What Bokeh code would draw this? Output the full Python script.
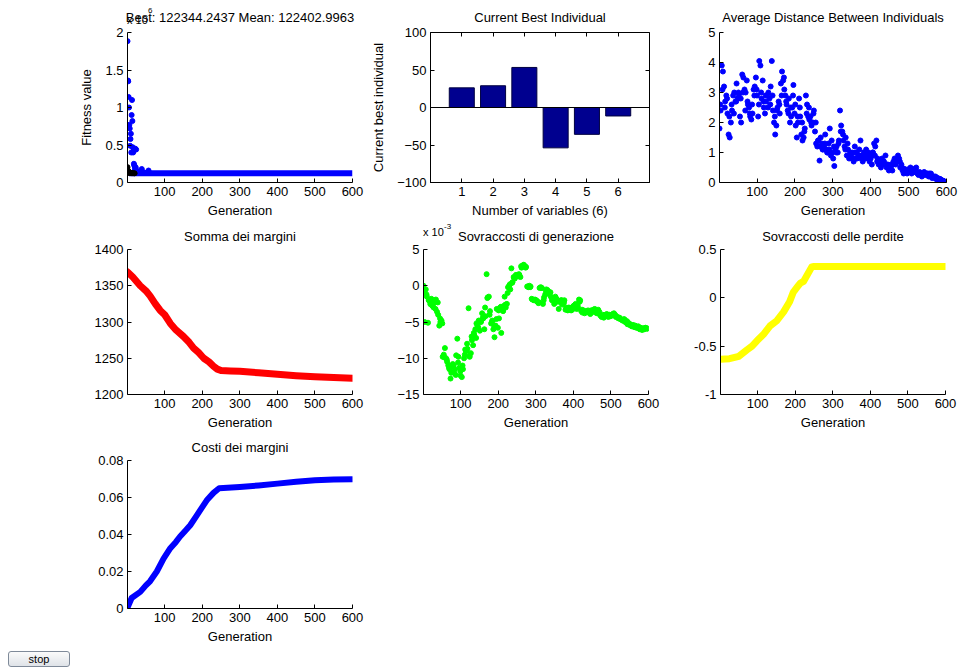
from bokeh.plotting import figure
from bokeh.layouts import column, row
from bokeh.models import (Range1d, FixedTicker, LinearAxis, Span, Button, Div,
                          InlineStyleSheet, Spacer)
from bokeh.embed import file_html
from bokeh.resources import INLINE

FONT = "Liberation Sans"
FS = "13px"

# ---------------- data ----------------
gen_ticks = [100, 200, 300, 400, 500, 600]

# Fitness value (x 1e6): mean of population in early generations, then plateau
mean_gen = [1, 2, 3, 4, 5, 6, 7, 8, 9, 10, 11, 12, 13, 14, 15, 16, 17, 18, 19, 20,
            21, 22, 23, 24, 25, 26, 28, 30, 35, 39, 45, 57]
mean_val = [1.885, 1.36, 1.35, 1.14, 1.0, 0.77, 0.72, 0.49, 0.58, 0.65, 0.40, 0.90,
            1.10, 0.82, 0.47, 0.40, 0.42, 0.25, 0.23, 0.22, 0.18, 0.45, 0.20, 0.44,
            0.16, 0.15, 0.14, 0.14, 0.13, 0.18, 0.135, 0.16]
mean_plateau_gen = [5, 600]
mean_plateau_val = [0.1224, 0.1224]
best_gen = [1, 2, 3, 4, 5, 6, 8, 10, 12, 15, 18, 20]
best_val = [0.205, 0.16, 0.14, 0.15, 0.13, 0.13, 0.125, 0.13, 0.125, 0.124, 0.123, 0.1223]
fit_ticks = [0, 0.5, 1, 1.5, 2]
fit_labels = ["0", "0.5", "1", "1.5", "2"]

# Current best individual
var_index = [1, 2, 3, 4, 5, 6]
best_individual = [26.2, 29.0, 53.4, -53.8, -35.8, -11.3]

# Average distance between individuals (two interleaved samplings of the run)
dist_val = [1.8, 2.4, 3.9, 3.7, 3.2, 2.7, 2.9, 2.3, 1.6, 1.5, 2.0, 2.4, 2.9, 3.0, 2.7, 3.3, 2.8,
            2.9, 2.2, 2.0, 3.6, 3.5, 3.1, 3.0, 3.4, 2.6, 2.5, 2.2, 2.1, 2.3, 3.1, 3.2, 3.5, 2.9,
            2.2, 4.05, 3.9, 2.8, 3.4, 2.5, 2.3, 2.7, 2.9, 3.0, 2.8, 3.2, 4.05, 2.4, 2.0, 1.6, 1.9,
            2.5, 2.7, 2.3, 3.3, 3.7, 3.4, 3.1, 2.9, 2.6, 2.4, 2.8, 2.0, 2.2, 2.5, 3.25, 2.3,
            1.9, 1.5, 2.0, 2.8, 2.2, 1.6, 1.4, 1.5, 1.8, 2.9, 2.6, 2.2, 2.1, 2.2, 1.9, 2.0, 2.4,
            1.7, 1.3, 1.2, 1.4, 0.73, 1.5, 1.3, 1.1, 1.2, 1.6, 1.1, 1.0, 1.3, 1.8, 0.9, 1.0,
            0.8, 0.55, 1.1, 1.2, 1.0, 1.4, 2.4, 1.9, 1.7, 1.4, 1.2, 1.5, 0.9, 1.1, 0.8, 1.0, 0.9,
            0.8, 0.7, 1.2, 1.0, 0.8, 0.9, 1.1, 1.4, 0.9, 0.7, 1.0, 0.8, 1.1, 0.9, 1.0, 0.7, 0.8,
            0.6, 1.0, 1.3, 1.2, 1.4, 0.8, 0.6, 0.7, 0.5, 0.8, 0.7, 0.6, 0.9, 0.5, 0.6, 0.4, 0.5,
            0.6, 0.4, 0.7, 0.8, 0.6, 0.7, 0.9, 0.8, 0.5, 0.6, 0.4, 0.3, 0.45, 0.35, 0.3, 0.35,
            0.4, 0.5, 0.3, 0.45, 0.4, 0.35, 0.5, 0.3, 0.25, 0.35, 0.3, 0.2, 0.3, 0.35, 0.25, 0.3, 0.3,
            0.2, 0.25, 0.3, 0.15, 0.2, 0.15, 0.2, 0.1, 0.15, 0.1, 0.12, 0.08, 0.06, 0.05, 0.03, 0.01]
dist_gen = [1 + 3 * i for i in range(len(dist_val))]
dist_val_b = [2.6, 3.1, 2.5, 2.8, 2.2, 2.6, 2.3, 2.7, 3.0,
              2.8, 3.0, 2.4, 2.7, 2.3, 2.6, 2.9, 3.1,
              2.6, 3.0, 2.7, 2.9, 2.5, 2.6, 2.9, 2.2, 2.4,
              2.6, 2.9, 3.5, 2.7, 2.3, 2.5, 2.9, 2.6,
              2.2, 2.5, 2.0, 1.7, 2.3, 2.5, 2.0, 2.3, 2.0,
              1.4, 1.2, 1.1, 1.3, 1.0, 1.1, 1.4, 1.2,
              1.0, 1.3, 1.7, 1.6, 1.1, 1.3, 0.9, 1.0, 0.8,
              1.0, 0.9, 0.8, 0.9, 1.0, 0.8, 0.9, 1.0,
              0.9, 0.7, 0.65, 0.6, 0.7, 0.6, 0.55, 0.5, 0.6,
              0.65, 0.75, 0.7, 0.5, 0.4, 0.4, 0.45, 0.4,
              0.35, 0.4, 0.3, 0.3, 0.25, 0.3, 0.25, 0.3, 0.2,
              0.2, 0.15, 0.12, 0.1, 0.06, 0.02]
dist_gen_b = [3 + 6 * i for i in range(len(dist_val_b))]

# Somma dei margini
somma_gen = [1, 15, 35, 50, 61, 75, 88, 100, 115, 130, 150, 165, 177, 190, 204, 218, 230,
             240, 250, 275, 300, 350, 400, 450, 500, 550, 600]
somma_val = [1369, 1362, 1350, 1343, 1336, 1325, 1316, 1310, 1298, 1289, 1280, 1272, 1264,
             1258, 1250, 1245, 1239, 1235, 1233, 1232.5, 1232, 1230, 1228, 1226, 1224.5,
             1223.5, 1222.5]

# Sovraccosti di generazione (x 1e-3, two interleaved samplings of the run)
gen_cost_val = [0.0, -5.0, -0.5, -1.5, -5.1, -2.0, -2.5, -1.8, -2.8, -3.0, -2.2, -1.9, -3.6, -4.0, -5.5, -5.0, -4.8,
                -9.8, -9.5, -8.6, -10.0, -10.5, -11.0, -11.5, -12.8, -11.2, -10.8, -12.0, -11.5, -9.6, -7.3, -9.8, -11.3, -12.4,
                -12.6, -11.5, -10.0, -8.8, -9.0, -8.7, -3.1, -9.8, -9.3, -7.5, -8.2, -6.8, -6.0, -5.2, -5.5, -4.8, -6.2,
                -5.0, -3.8, -4.5, -6.0, -4.2, 1.6, -1.6, -1.5, -3.5, -5.2, -4.8, -6.0, -7.1, -5.5, -3.2, -5.8,
                -4.5, -3.0, -6.5, -3.3, -2.8, -1.5, -3.0, -2.5, -0.2, 0.0, -0.5, 2.4, 0.5, 1.2, 1.0, 1.5, 1.4,
                1.3, 1.5, 1.2, 2.5, 2.8, 2.9, 2.7, 2.6, -0.1, -0.2, 0.0, -0.1, -1.8, -1.9, -2.0, -1.9,
                -2.0, -2.2, -2.4, -0.3, -0.2, -0.3, -2.5, -1.6, -1.2, -0.5, -0.6, -0.8, -1.0, -1.5, -2.0, -1.9, -2.5,
                -1.5, -1.8, -2.2, -3.2, -2.1, -2.0, -2.6, -2.4, -2.0, -3.3, -3.2, -3.4, -3.0, -3.1, -3.4, -3.3, -2.8,
                -2.7, -2.5, -3.2, -2.9, -1.9, -2.0, -3.5, -3.7, -3.4, -3.8, -3.6, -3.5, -3.4, -3.7, -3.9, -3.5, -3.6,
                -3.4, -3.2, -3.5, -3.8, -3.3, -3.6, -4.1, -4.3, -4.0, -4.4, -4.2, -4.0, -4.1, -4.3, -4.0, -4.2,
                -4.1, -3.9, -3.8, -4.0, -4.2, -4.3, -4.5, -4.4, -4.6, -4.7, -4.8, -4.6, -5.0, -5.1, -5.3, -5.2, -5.4,
                -5.5, -5.6, -5.4, -5.7, -5.5, -5.8, -5.7, -5.9, -6.0, -5.8, -6.1, -5.9, -6.0, -5.8, -5.9, -5.9]
gen_cost_gen = [1 + 3 * i for i in range(len(gen_cost_val))]
gen_cost_val_b = [-0.8, -1.2, -2.0, -2.6, -2.4, -3.2, -2.3, -4.5, -5.2,
                  -9.9, -10.2, -11.3, -12.0, -11.0, -12.3, -10.6, -11.8,
                  -11.0, -9.5, -8.0, -9.7, -7.0, -6.5, -7.2, -5.8, -4.9,
                  -4.4, -3.0, -1.7, -4.0, -5.0, -5.5, -4.6, -3.4,
                  -2.9, -3.5, -2.6, -1.0, 0.2, 0.4, 1.0, 1.3, 1.6,
                  2.7, 2.8, 2.5, -0.1, -0.2, -1.9, -2.0, -2.1,
                  -2.3, -0.3, -2.0, -0.7, -1.1, -0.9, -1.7, -1.9, -2.0,
                  -2.2, -2.0, -2.3, -3.0, -3.3, -3.1, -2.9, -2.7,
                  -2.6, -2.2, -3.3, -3.5, -3.6, -3.7, -3.4, -3.3, -3.7,
                  -3.5, -4.0, -4.2, -4.1, -3.9, -4.2, -4.0, -3.9,
                  -4.3, -4.4, -4.6, -4.8, -4.7, -4.9, -5.2, -5.5, -5.6,
                  -5.7, -5.6, -5.9, -6.0, -5.8, -5.9]
gen_cost_gen_b = [3 + 6 * i for i in range(len(gen_cost_val_b))]

# Sovraccosti delle perdite
loss_gen = [1, 25, 50, 71, 85, 98, 115, 133, 150, 169, 185, 195, 205, 213, 222, 231, 244,
            250, 300, 400, 500, 600]
loss_val = [-0.635, -0.63, -0.605, -0.54, -0.50, -0.445, -0.38, -0.29, -0.24, -0.145, -0.04,
            0.06, 0.11, 0.15, 0.17, 0.23, 0.32, 0.325, 0.325, 0.325, 0.325, 0.325]
loss_ticks = [-1, -0.5, 0, 0.5]
loss_labels = ["-1", "-0.5", "0", "0.5"]

# Costi dei margini
costi_gen = [1, 12, 35, 50, 61, 79, 97, 115, 130, 141, 155, 168, 186, 200, 212, 230, 245,
             300, 350, 400, 450, 500, 550, 600]
costi_val = [0.0005, 0.0057, 0.009, 0.0125, 0.0147, 0.020, 0.027, 0.0326, 0.036, 0.0389,
             0.042, 0.045, 0.0505, 0.0548, 0.0585, 0.0625, 0.065, 0.0657, 0.0665, 0.0675,
             0.0685, 0.0693, 0.0697, 0.0698]
costi_ticks = [0, 0.02, 0.04, 0.06, 0.08]
costi_labels = ["0", "0.02", "0.04", "0.06", "0.08"]


def style_axis(ax):
    ax.axis_line_color = "black"
    ax.major_tick_line_color = "black"
    ax.major_tick_in = 4
    ax.major_tick_out = 0
    ax.minor_tick_line_color = None
    ax.major_label_text_font = FONT
    ax.major_label_text_font_size = FS
    ax.major_label_text_color = "black"
    ax.major_label_standoff = 4
    ax.axis_label_text_font = FONT
    ax.axis_label_text_font_size = FS
    ax.axis_label_text_font_style = "normal"
    ax.axis_label_text_color = "black"


def panel(w, h, xr, yr, left, right, top, bottom, title, yticks, title_gap,
          ylabels=None, xticks=gen_ticks, xlabel="Generation", ylabel=None):
    p = figure(width=w, height=h, x_range=Range1d(*xr), y_range=Range1d(*yr),
               output_backend="svg", toolbar_location=None,
               min_border_left=left, min_border_right=right,
               min_border_top=top, min_border_bottom=bottom)
    p.title.text = title
    p.title.align = "center"
    p.title.text_font = FONT
    p.title.text_font_size = FS
    p.title.text_font_style = "normal"
    p.title.text_color = "black"
    p.title.standoff = title_gap
    p.grid.visible = False
    p.outline_line_color = None
    p.background_fill_color = "white"
    p.border_fill_color = "white"
    for ax in (p.xaxis[0], p.yaxis[0]):
        style_axis(ax)
    p.xaxis.ticker = FixedTicker(ticks=xticks)
    p.yaxis.ticker = FixedTicker(ticks=yticks)
    if ylabels is not None:
        p.yaxis.major_label_overrides = {float(t): s for t, s in zip(yticks, ylabels)}
    p.xaxis.axis_label = xlabel
    p.xaxis.axis_label_standoff = 4
    if ylabel:
        p.yaxis.axis_label = ylabel
        p.yaxis.axis_label_standoff = 8
    return p


def floating_text(text, left, top, size):
    # axis multiplier text, positioned on the page above a frame's top-left corner
    return Div(text=text, margin=0,
               styles={"position": "absolute", "left": f"{left}px", "top": f"{top}px",
                       "font-family": FONT, "font-size": size, "line-height": size,
                       "color": "black", "white-space": "nowrap", "z-index": "5"})


# ---------------- row 1 ----------------
p1 = panel(368, 220, (1, 600), (0, 2), 127, 16, 32, 36,
           "Best: 122344.2437 Mean: 122402.9963", fit_ticks, 15, fit_labels,
           ylabel="Fitness value")
p1.line(mean_plateau_gen, mean_plateau_val, line_color="blue", line_width=6)
p1.scatter(mean_gen, mean_val, marker="circle", size=5, color="blue")
p1.scatter(best_gen, best_val, marker="circle", size=5, color="black")

p2 = panel(300, 220, (0, 7), (-100, 100), 55, 19, 32, 36,
           "Current Best Individual", [-100, -50, 0, 50, 100], 15,
           xticks=var_index, xlabel="Number of variables (6)",
           ylabel="Current best individual")
p2.outline_line_color = "black"
p2.vbar(x=var_index, top=best_individual, width=0.8, bottom=0,
        fill_color="#00008F", line_color="#00003F", line_width=1)
p2.add_layout(Span(location=0, dimension="width", line_color="black", line_width=1))
top_ax = LinearAxis(ticker=FixedTicker(ticks=var_index), major_label_text_color=None)
right_ax = LinearAxis(ticker=FixedTicker(ticks=[-100, -50, 0, 50, 100]),
                      major_label_text_color=None)
for ax in (top_ax, right_ax):
    ax.axis_line_color = None
    ax.major_tick_line_color = "black"
    ax.major_tick_in = 4
    ax.major_tick_out = 0
    ax.minor_tick_line_color = None
    ax.major_label_text_font_size = "1px"
    ax.major_label_standoff = 0
p2.add_layout(top_ax, "above")
p2.add_layout(right_ax, "right")

p3 = panel(293, 220, (1, 600), (0, 5), 51, 15, 32, 36,
           "Average Distance Between Individuals", [0, 1, 2, 3, 4, 5], 15)
p3.scatter(dist_gen, dist_val, marker="circle", size=5, color="blue")
p3.scatter(dist_gen_b, dist_val_b, marker="circle", size=5, color="blue")

# ---------------- row 2 ----------------
p4 = panel(368, 212, (1, 600), (1200, 1400), 127, 16, 29, 34,
           "Somma dei margini", [1200, 1250, 1300, 1350, 1400], 12)
p4.line(somma_gen, somma_val, line_color="red", line_width=7, line_join="round",
        line_cap="round")

p5 = panel(300, 212, (1, 600), (-15, 5), 55, 20, 29, 34,
           "Sovraccosti di generazione", [-15, -10, -5, 0, 5], 12)
p5.scatter(gen_cost_gen, gen_cost_val, marker="circle", size=5, color="#00FF00")
p5.scatter(gen_cost_gen_b, gen_cost_val_b, marker="circle", size=5, color="#00FF00")

p6 = panel(293, 212, (1, 600), (-1, 0.5), 52, 16, 29, 34,
           "Sovraccosti delle perdite", loss_ticks, 12, loss_labels)
p6.line(loss_gen, loss_val, line_color="#FFFF00", line_width=7, line_join="round",
        line_cap="round")

# ---------------- row 3 ----------------
p7 = panel(368, 214, (1, 600), (0, 0.08), 127, 16, 28, 37,
           "Costi dei margini", costi_ticks, 11, costi_labels)
p7.line(costi_gen, costi_val, line_color="blue", line_width=6, line_join="round",
        line_cap="round")

# ---------------- axis multipliers ----------------
mult1 = floating_text("x 10", 127, 15, "11px")
mult1_exp = floating_text("6", 148, 7, "8px")
mult5 = floating_text("x 10", 423, 227, "11px")
mult5_exp = floating_text("-3", 444, 223, "8px")

# ---------------- stop button ----------------
btn_css = InlineStyleSheet(css="""
.bk-btn {
  padding: 0;
  height: 16px;
  font-family: 'Liberation Sans', sans-serif;
  font-size: 11px;
  color: black;
  border: 1px solid #7f8a99;
  border-radius: 3px;
  background: linear-gradient(#fbfbfb, #dfe3e8);
}
""")
stop = Button(label="stop", width=62, height=16, margin=(5, 0, 0, 8),
              stylesheets=[btn_css])

layout = column(row(p1, p2, p3, spacing=0),
                row(p4, p5, p6, spacing=0),
                row(p7, Spacer(width=593, height=214), spacing=0),
                stop, mult1, mult1_exp, mult5, mult5_exp, spacing=0)

open("out.html", "w").write(file_html(layout, INLINE, title="Genetic Algorithm"))
